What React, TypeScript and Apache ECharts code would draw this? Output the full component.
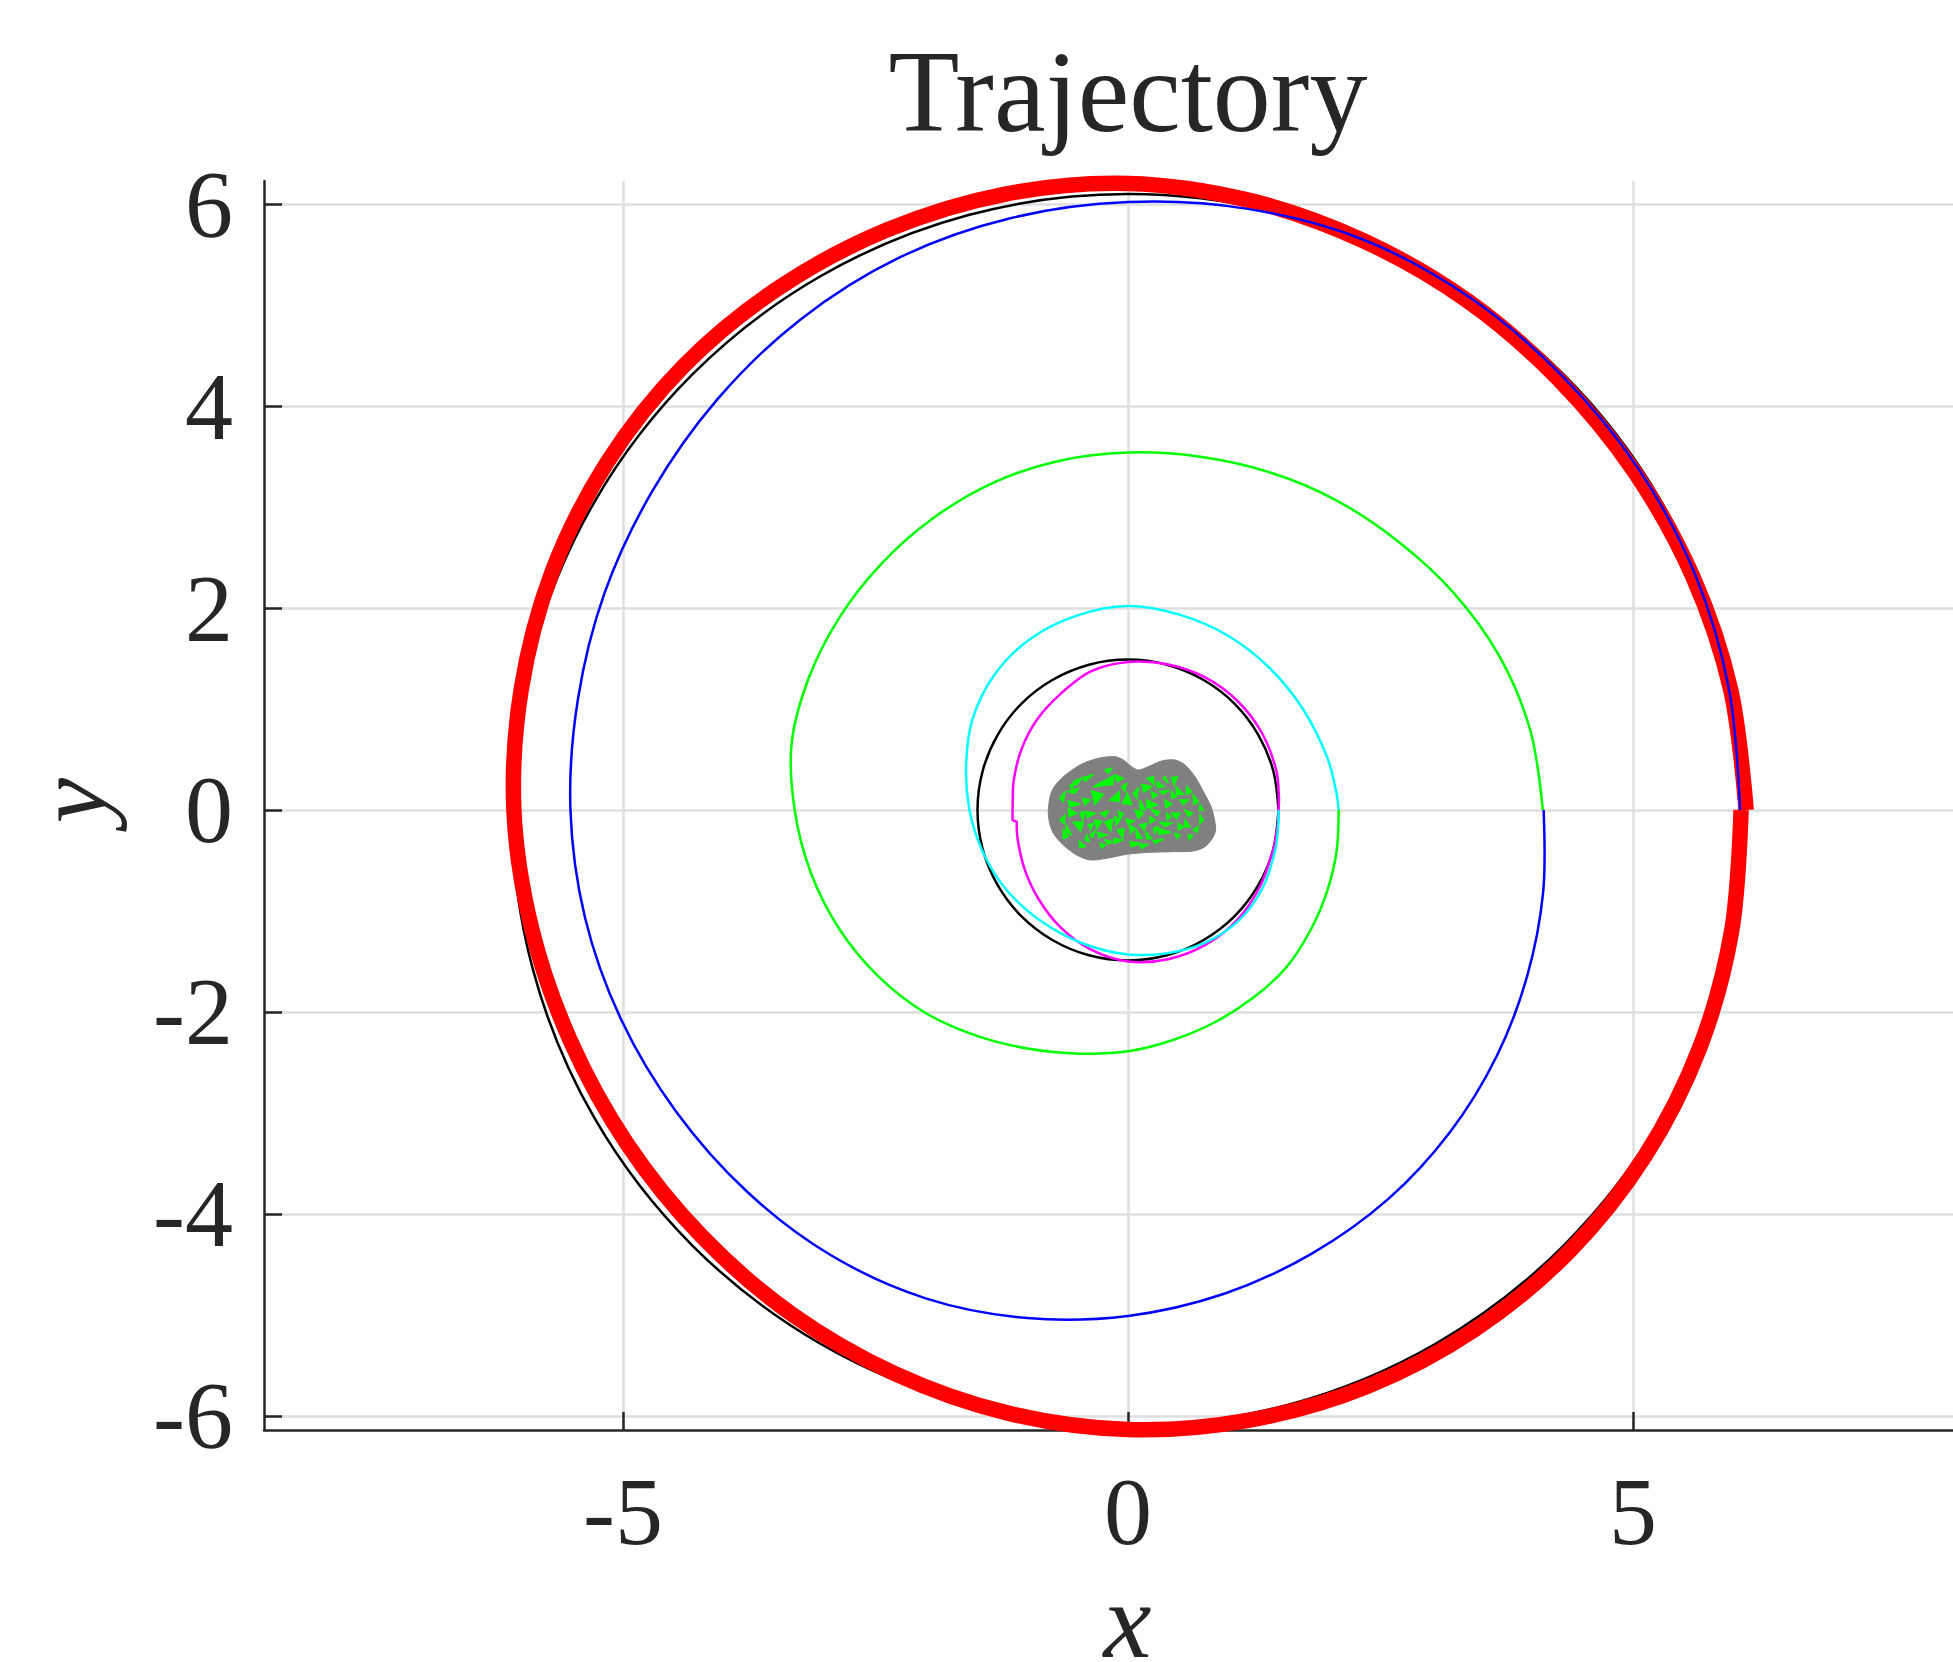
import React, { useEffect, useRef } from "react";
import * as echarts from "echarts";

const titleText = "Trajectory";
const xTicks = [-5, 0, 5];
const yTicks = [-6, -4, -2, 0, 2, 4, 6];

const blackOuter = [[6.1,0],[5.892,1.579],[5.283,3.05],[4.313,4.313],[3.05,5.283],[1.579,5.892],[0,6.1],[-1.579,5.892],[-3.05,5.283],[-4.313,4.313],[-5.283,3.05],[-5.892,1.579],[-6.1,0],[-5.892,-1.579],[-5.283,-3.05],[-4.313,-4.313],[-3.05,-5.283],[-1.579,-5.892],[0,-6.1],[1.579,-5.892],[3.05,-5.283],[4.313,-4.313],[5.283,-3.05],[5.892,-1.579],[6.1,0]];
const blackInner = [[1.49,0],[1.439,0.386],[1.29,0.745],[1.054,1.054],[0.745,1.29],[0.386,1.439],[0,1.49],[-0.386,1.439],[-0.745,1.29],[-1.054,1.054],[-1.29,0.745],[-1.439,0.386],[-1.49,0],[-1.439,-0.386],[-1.29,-0.745],[-1.054,-1.054],[-0.745,-1.29],[-0.386,-1.439],[0,-1.49],[0.386,-1.439],[0.745,-1.29],[1.054,-1.054],[1.29,-0.745],[1.439,-0.386],[1.49,0]];
const red = [[6.12,0],[5.968,1.187],[5.59,2.315],[5.014,3.35],[4.264,4.264],[3.367,5.039],[2.334,5.636],[1.201,6.037],[0,6.205],[-1.213,6.1],[-2.38,5.747],[-3.456,5.172],[-4.398,4.398],[-5.155,3.445],[-5.7,2.361],[-6.007,1.195],[-6.08,0],[-5.904,-1.175],[-5.52,-2.287],[-4.956,-3.311],[-4.221,-4.221],[-3.334,-4.989],[-2.312,-5.58],[-1.188,-5.973],[0,-6.135],[1.202,-6.042],[2.365,-5.71],[3.436,-5.143],[4.37,-4.37],[5.122,-3.422],[5.664,-2.346],[5.978,-1.189],[6.07,0]];
const blue = [[6.06,0],[5.953,1.184],[5.617,2.327],[5.055,3.378],[4.299,4.299],[3.389,5.072],[2.338,5.645],[1.184,5.953],[0,6.02],[-1.166,5.86],[-2.266,5.47],[-3.245,4.856],[-4.066,4.066],[-4.714,3.15],[-5.183,2.147],[-5.448,1.084],[-5.52,0],[-5.375,-1.069],[-5.017,-2.078],[-4.473,-2.989],[-3.776,-3.776],[-2.945,-4.407],[-2.003,-4.836],[-1.001,-5.031],[0,-5.01],[0.953,-4.791],[1.82,-4.393],[2.575,-3.854],[3.189,-3.189],[3.65,-2.439],[3.954,-1.638],[4.11,-0.817],[4.115,0]];
const green = [[4.107,0],[3.982,0.792],[3.677,1.523],[3.222,2.153],[2.666,2.666],[2.053,3.072],[1.387,3.349],[0.697,3.501],[0,3.54],[-0.688,3.457],[-1.341,3.238],[-1.931,2.889],[-2.44,2.44],[-2.856,1.908],[-3.16,1.309],[-3.33,0.662],[-3.3,0],[-3.139,-0.624],[-2.855,-1.183],[-2.469,-1.65],[-2.008,-2.008],[-1.495,-2.237],[-0.98,-2.365],[-0.48,-2.413],[0,-2.39],[0.453,-2.275],[0.869,-2.097],[1.242,-1.858],[1.563,-1.563],[1.8,-1.203],[1.968,-0.815],[2.065,-0.411],[2.086,0]];
const cyan = [[2.086,0],[2.062,0.18],[1.97,0.528],[1.732,1],[1.404,1.404],[0.995,1.723],[0.518,1.932],[0,2.02],[-0.515,1.922],[-0.975,1.689],[-1.329,1.329],[-1.542,0.89],[-1.603,0.43],[-1.57,0],[-1.449,-0.388],[-1.256,-0.725],[-0.997,-0.997],[-0.695,-1.204],[-0.362,-1.352],[0,-1.43],[0.38,-1.42],[0.76,-1.316],[1.096,-1.096],[1.334,-0.77],[1.459,-0.391],[1.489,-0.13],[1.49,0]];
const magentaUpper = [[1.49,0],[1.494,0.131],[1.468,0.393],[1.325,0.765],[1.082,1.082],[0.76,1.316],[0.387,1.444],[0,1.465],[-0.368,1.372],[-0.665,1.152],[-0.898,0.898],[-1.052,0.608],[-1.13,0.303],[-1.142,0.06],[-1.142,-0.109]];
const magentaStep = [[-1.142,-0.109],[-1.102,-0.109]];
const magentaLower = [[-1.102,-0.109],[-1.092,-0.292],[-1.022,-0.59],[-0.884,-0.884],[-0.67,-1.16],[-0.37,-1.381],[0,-1.5],[0.396,-1.478],[0.77,-1.334],[1.085,-1.085],[1.308,-0.755],[1.439,-0.386],[1.484,-0.13],[1.49,0]];

const blobOutline = [[-0.789,0],[-0.756,0.182],[-0.657,0.314],[-0.475,0.446],[-0.294,0.512],[-0.129,0.528],[-0.046,0.495],[0.036,0.429],[0.102,0.396],[0.201,0.429],[0.333,0.485],[0.465,0.495],[0.564,0.446],[0.663,0.33],[0.746,0.182],[0.828,0.017],[0.868,-0.182],[0.845,-0.264],[0.762,-0.363],[0.647,-0.406],[0.449,-0.413],[0.218,-0.419],[-0.013,-0.439],[-0.211,-0.479],[-0.376,-0.495],[-0.508,-0.446],[-0.64,-0.347],[-0.739,-0.231],[-0.779,-0.116]];
const blobFaces = [
  [-0.343,0.231,-0.139,0.34,-0.152,0.254],[-0.129,0.347,-0.046,0.314,-0.106,0.281],[-0.36,0.188,-0.244,0.155,-0.327,0.056],
  [-0.178,0.099,-0.086,0.182,-0.086,0.083],[-0.053,0.066,-0.007,0.165,0.036,0.056],[0.135,0.254,0.234,0.231,0.158,0.175],
  [0.191,0.314,0.251,0.33,0.257,0.254],[0.29,0.281,0.356,0.231,0.29,0.221],[0.35,0.314,0.399,0.264,0.366,0.33],
  [0.432,0.32,0.488,0.33,0.455,0.254],[0.475,0.231,0.548,0.155,0.482,0.155],[0.185,0.099,0.29,0.05,0.191,0.017],
  [0.224,0.01,0.31,-0.017,0.29,-0.056],[0.317,0.182,0.409,0.198,0.35,0.155],[-0.591,0.089,-0.475,0.056,-0.574,0.033],
  [-0.591,0.017,-0.508,-0.033,-0.581,-0.066],[-0.541,-0.122,-0.442,-0.122,-0.469,-0.208],[-0.614,-0.149,-0.558,-0.248,-0.614,-0.208],
  [-0.228,-0.122,-0.152,-0.089,-0.172,-0.208],[-0.304,-0.221,-0.211,-0.248,-0.284,-0.274],[-0.139,-0.281,-0.053,-0.297,-0.139,-0.33],
  [-0.106,-0.198,-0.04,-0.188,-0.053,-0.274],[-0.02,-0.089,0.059,-0.109,0.003,-0.142],[0.013,-0.149,0.069,-0.182,0.026,-0.231],
  [0.079,-0.188,0.135,-0.281,0.086,-0.281],[0.178,-0.215,0.234,-0.281,0.185,-0.287],[0.3,-0.182,0.422,-0.221,0.31,-0.241],
  [0.251,-0.307,0.356,-0.287,0.267,-0.33],[-0.482,-0.307,-0.426,-0.363,-0.475,-0.373],[-0.409,-0.017,-0.327,-0.033,-0.403,-0.076],
  [-0.525,0.165,-0.492,0.215,-0.591,0.182],[-0.442,0.32,-0.343,0.353,-0.426,0.281],[-0.228,0.396,-0.162,0.413,-0.195,0.363],
  [0.432,-0.033,0.515,-0.033,0.482,-0.089],[0.564,0,0.64,-0.033,0.597,-0.066],[0.317,-0.122,0.432,-0.132,0.366,-0.165],
  [0.515,0.099,0.597,0.099,0.548,0.056],[0.366,0.099,0.432,0.056,0.376,0.023],[0.564,-0.099,0.614,-0.165,0.564,-0.165],
  [-0.228,-0.297,-0.162,-0.314,-0.195,-0.34],[-0.376,-0.248,-0.327,-0.208,-0.35,-0.274],[-0.393,-0.149,-0.343,-0.132,-0.37,-0.198],
  [-0.673,-0.099,-0.624,-0.05,-0.634,-0.132],[0.647,-0.198,0.696,-0.165,0.686,-0.221],[0.465,-0.231,0.515,-0.248,0.482,-0.281],
  [0.119,-0.149,0.185,-0.132,0.158,-0.198],[0.218,-0.066,0.267,-0.099,0.218,-0.132],[0.02,-0.314,0.119,-0.33,0.036,-0.363],
  [-0.449,0.116,-0.376,0.099,-0.426,0.05],[-0.271,-0.033,-0.195,-0.01,-0.228,-0.066],
  [-0.673,0.116,-0.624,0.182,-0.64,0.083],[-0.541,0.281,-0.459,0.314,-0.508,0.248],[-0.063,0.231,-0.013,0.264,-0.03,0.182],
  [0.053,0.165,0.102,0.215,0.086,0.116],[0.119,0.099,0.168,0,0.119,0],[0.069,0,0.152,-0.033,0.102,-0.083],
  [-0.096,-0.017,-0.046,-0.033,-0.079,-0.089],[-0.327,-0.099,-0.261,-0.116,-0.31,-0.182],[-0.475,-0.033,-0.426,-0.017,-0.449,-0.099],
  [0.713,-0.05,0.746,-0.099,0.713,-0.132],[0.581,0.231,0.63,0.182,0.581,0.155],[0.647,0.149,0.696,0.083,0.653,0.056],
  [0.432,0.182,0.482,0.132,0.432,0.116],[0.234,0.182,0.29,0.149,0.244,0.116],[0.383,-0.033,0.422,-0.066,0.389,-0.099],
  [0.498,-0.132,0.548,-0.165,0.498,-0.198],[0.251,-0.182,0.3,-0.165,0.267,-0.231],[-0.574,0.248,-0.525,0.264,-0.558,0.208],
  [-0.277,-0.33,-0.228,-0.347,-0.261,-0.38],[0.119,-0.347,0.201,-0.34,0.135,-0.38],[0.597,-0.248,0.64,-0.254,0.607,-0.297],
  [-0.129,-0.066,-0.079,-0.099,-0.119,-0.149],[-0.409,-0.248,-0.383,-0.314,-0.426,-0.297],[0.713,0.05,0.746,0,0.706,0],
  [-0.64,-0.198,-0.591,-0.264,-0.64,-0.281],
];

const FONT = "Liberation Serif";
const INK = "#262626";
const GRID = "#dfdfdf";

function trace(name: string, color: string, width: number, data: number[][], z = 3) {
  return {
    type: "custom", name, data, z, clip: false, silent: true,
    encode: { x: 0, y: 1 },
    renderItem: (p: any, api: any) => {
      if (p.dataIndex !== 0) return null;
      return {
        type: "polyline",
        shape: { points: data.map((d) => api.coord(d)), smooth: data.length > 2 ? 0.33 : 0 },
        style: { stroke: color, lineWidth: width, fill: "none", lineCap: "butt", lineJoin: "round" },
      };
    },
  };
}

export default function App() {
  const ref = useRef<HTMLDivElement>(null);
  useEffect(() => {
    document.body.style.margin = "0";
    document.body.style.background = "#fff";
    const chart = echarts.init(ref.current!, undefined, { renderer: "svg" });
    const axisCommon = {
      type: "value",
      z: 2,
      splitLine: { show: false },
      axisLine: { show: true, onZero: false, lineStyle: { color: INK, width: 2.5 } },
    };
    const nameStyle = { fontFamily: FONT, fontStyle: "italic", color: INK };
    chart.setOption({
      animation: false,
      backgroundColor: "#ffffff",
      title: {
        text: titleText, left: 1123, top: 29, textAlign: "center",
        textStyle: { fontFamily: FONT, fontWeight: "normal", fontSize: 116, color: INK },
      },
      grid: { left: 264, top: 181, width: 1689, height: 1249, containLabel: false, outerBoundsMode: "none" },
      xAxis: {
        ...axisCommon, min: -8.554, max: 8.168,
        name: "x", nameLocation: "middle", nameGap: 150,
        nameTextStyle: { ...nameStyle, fontSize: 108, lineHeight: 80, padding: [0, 0, 0, 38] },
        axisTick: { show: true, inside: true, length: 18, customValues: xTicks, lineStyle: { color: INK, width: 2.5 } },
        axisLabel: { customValues: xTicks, margin: 33, fontFamily: FONT, fontSize: 96, color: INK, showMinLabel: true, showMaxLabel: true, formatter: (v: number) => String(v) },
      },
      yAxis: {
        ...axisCommon, min: -6.14, max: 6.229,
        name: "y", nameLocation: "middle", nameGap: 143, nameRotate: 90,
        nameTextStyle: { ...nameStyle, fontSize: 102, padding: [0, 0, 0, 10] },
        axisTick: { show: true, inside: true, length: 18, customValues: yTicks, lineStyle: { color: INK, width: 2.5 } },
        axisLabel: { customValues: yTicks, margin: 31, fontFamily: FONT, fontSize: 96, color: INK, showMinLabel: true, showMaxLabel: true, formatter: (v: number) => String(v) },
      },
      series: [
        {
          type: "line", name: "grid", data: [], z: 1, silent: true,
          markLine: {
            z: 1, silent: true, symbol: "none", animation: false, label: { show: false },
            lineStyle: { color: GRID, width: 2.5, type: "solid" },
            data: [...xTicks.map((v) => ({ xAxis: v })), ...yTicks.map((v) => ({ yAxis: v }))],
          },
        },
        trace("target outer", "#000000", 2.5, blackOuter),
        trace("target inner", "#000000", 2.5, blackInner),
        trace("red", "#ff0000", 15.5, red),
        trace("magenta upper", "#ff00ff", 2.5, magentaUpper),
        trace("magenta step", "#ff00ff", 2.5, magentaStep),
        trace("magenta lower", "#ff00ff", 2.5, magentaLower),
        trace("green", "#00ff00", 2.5, green),
        trace("cyan", "#00ffff", 2.5, cyan),
        trace("blue", "#0000ff", 2.5, blue),
        {
          type: "custom", name: "body outline", z: 4, silent: true, clip: false,
          data: [[0, 0]], encode: { x: 0, y: 1 },
          renderItem: (_p: any, api: any) => ({
            type: "polygon",
            shape: { points: blobOutline.map((p) => api.coord(p)), smooth: 0.3 },
            style: { fill: "#808080", stroke: "#808080", lineWidth: 1 },
          }),
        },
        {
          type: "custom", name: "body faces", z: 5, silent: true, clip: false,
          data: blobFaces, encode: { x: [0, 2, 4], y: [1, 3, 5] },
          renderItem: (_p: any, api: any) => ({
            type: "polygon",
            shape: {
              points: [
                api.coord([api.value(0), api.value(1)]),
                api.coord([api.value(2), api.value(3)]),
                api.coord([api.value(4), api.value(5)]),
              ],
            },
            style: { fill: "#00ff00", stroke: "#00ff00", lineWidth: 1.5 },
          }),
        },
      ],
    });
    return () => chart.dispose();
  }, []);
  return <div ref={ref} style={{ position: "absolute", left: 0, top: 0, width: 1953, height: 1662 }} />;
}
